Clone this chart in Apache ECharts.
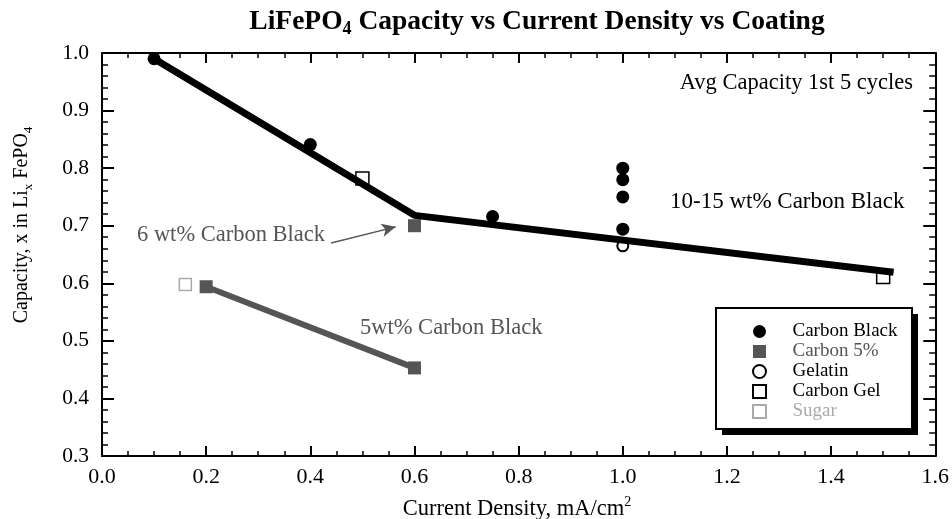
<!DOCTYPE html>
<html>
<head>
<meta charset="utf-8">
<script src="https://cdn.jsdelivr.net/npm/echarts@6/dist/echarts.min.js"></script>
<style>html,body{margin:0;padding:0;background:#fff}#c{width:952px;height:519px}</style>
</head>
<body>
<div id="c"></div>
<script>
// ---- data ----
const carbonBlack = [[0.1, 0.99], [0.4, 0.841], [0.75, 0.716], [1.0, 0.80], [1.0, 0.78], [1.0, 0.75], [1.0, 0.694]];
const carbon5 = [[0.2, 0.594], [0.6, 0.453], [0.6, 0.70]];
const gelatin = [[1.0, 0.665]];
const carbonGel = [[0.5, 0.782], [1.5, 0.611]];
const sugar = [[0.16, 0.598]];
const fitCarbonBlack = [[0.1, 0.99], [0.6, 0.718], [1.52, 0.619]];
const fit5wt = [[0.2, 0.594], [0.6, 0.453]];
const arrowTail = [0.44, 0.67];
const arrowHead = [0.564, 0.698];
const xTicks = {min: 0, max: 1.6, interval: 0.2};
const yTicks = {min: 0.3, max: 1.0, interval: 0.1};
const legendNames = ['Carbon Black', 'Carbon 5%', 'Gelatin', 'Carbon Gel', 'Sugar'];

const SERIF = '"Liberation Serif", "DejaVu Serif", serif';
const GRAY = '#555';
const LIGHT = '#aaa';
const SQUARE = 'path://M0,0H10V10H0Z';

const chart = echarts.init(document.getElementById('c'), null, {renderer: 'canvas'});

function xAxisDef(pos, showLabel) {
  return {
    type: 'value', position: pos, min: xTicks.min, max: xTicks.max, interval: xTicks.interval,
    axisLine: {show: true, onZero: false, lineStyle: {color: '#000', width: 2}},
    axisTick: {show: true, inside: true, length: 10, lineStyle: {color: '#000', width: 2}},
    minorTick: {show: true, splitNumber: 4, length: 5, lineStyle: {color: '#000', width: 1.5}},
    splitLine: {show: false}, minorSplitLine: {show: false},
    axisLabel: {show: showLabel, color: '#000', fontFamily: SERIF, fontSize: 22, margin: 10,
      formatter: v => v.toFixed(1)}
  };
}
function yAxisDef(pos, showLabel) {
  return {
    type: 'value', position: pos, min: yTicks.min, max: yTicks.max, interval: yTicks.interval,
    axisLine: {show: true, onZero: false, lineStyle: {color: '#000', width: 2}},
    axisTick: {show: true, inside: true, length: 12, lineStyle: {color: '#000', width: 2}},
    minorTick: {show: true, splitNumber: 5, length: 6, lineStyle: {color: '#000', width: 1.5}},
    splitLine: {show: false}, minorSplitLine: {show: false},
    axisLabel: {show: showLabel, color: '#000', fontFamily: SERIF, fontSize: 21.5, margin: 13,
      formatter: v => v.toFixed(1)}
  };
}

const option = {
  backgroundColor: '#fff',
  animation: false,
  grid: {left: 102, right: 14, top: 53, bottom: 63, containLabel: false},
  xAxis: [xAxisDef('bottom', true), xAxisDef('top', false)],
  yAxis: [yAxisDef('left', true), yAxisDef('right', false)],
  legend: {
    orient: 'vertical', left: 752, top: 322, z: 20,
    padding: 0,
    itemWidth: 56, itemHeight: 13, itemGap: 1,
    textStyle: {fontFamily: SERIF, fontSize: 19, color: '#000'},
    data: [
      {name: legendNames[0], textStyle: {color: '#000'}},
      {name: legendNames[1], icon: SQUARE, textStyle: {color: GRAY}},
      {name: legendNames[2], textStyle: {color: '#000'}},
      {name: legendNames[3], icon: SQUARE, textStyle: {color: '#000'}},
      {name: legendNames[4], icon: SQUARE, textStyle: {color: LIGHT}}
    ],
    selectedMode: false
  },
  series: [
    {name: legendNames[0], type: 'scatter', data: carbonBlack, symbol: 'circle', symbolSize: 13,
      itemStyle: {color: '#000', opacity: 1}, z: 2},
    {name: legendNames[1], type: 'scatter', data: carbon5, symbol: 'rect', symbolSize: 13,
      itemStyle: {color: GRAY, opacity: 1}, z: 2},
    {name: legendNames[2], type: 'scatter', data: gelatin, symbol: 'circle', symbolSize: 11,
      itemStyle: {color: '#fff', borderColor: '#000', borderWidth: 2, opacity: 1}, z: 2},
    {name: legendNames[3], type: 'scatter', data: carbonGel, symbol: 'rect', symbolSize: 13,
      itemStyle: {color: '#fff', borderColor: '#000', borderWidth: 1.5, opacity: 1}, z: 2},
    {name: legendNames[4], type: 'scatter', data: sugar, symbol: 'rect', symbolSize: 12,
      itemStyle: {color: '#fff', borderColor: LIGHT, borderWidth: 1.5, opacity: 1}, z: 2},
    {name: 'fitCB', type: 'line', data: fitCarbonBlack, symbol: 'none', z: 3,
      lineStyle: {color: '#000', width: 7}},
    {name: 'fit5', type: 'line', data: fit5wt, symbol: 'none', z: 3,
      lineStyle: {color: GRAY, width: 6},
      markLine: {silent: true, symbol: ['none', 'arrow'], symbolSize: [10, 14], label: {show: false},
        lineStyle: {color: GRAY, width: 1.5, type: 'solid'},
        data: [[{coord: arrowTail}, {coord: arrowHead}]]}}
  ],
  graphic: [
    // legend frame with solid drop shadow
    {type: 'rect', z: 10, shape: {x: 722, y: 314, width: 196, height: 121}, style: {fill: '#000'}},
    {type: 'rect', z: 11, shape: {x: 716, y: 308, width: 196, height: 121},
      style: {fill: '#fff', stroke: '#000', lineWidth: 2}},
    {type: 'text', x: 537, y: 22, style: {
      text: '{a|LiFePO}{s|4}{a| Capacity vs Current Density vs Coating}',
      align: 'center', verticalAlign: 'middle',
      rich: {
        a: {fontFamily: SERIF, fontWeight: 'bold', fontSize: 27.5, lineHeight: 32, fill: '#000', verticalAlign: 'middle'},
        s: {fontFamily: SERIF, fontWeight: 'bold', fontSize: 18, lineHeight: 19, fill: '#000', verticalAlign: 'bottom'}
      }}},
    {type: 'text', x: 517, y: 508, style: {
      text: '{a|Current Density, mA/cm}{s|2}',
      align: 'center', verticalAlign: 'middle',
      rich: {
        a: {fontFamily: SERIF, fontSize: 22.5, lineHeight: 26, fill: '#000', verticalAlign: 'bottom'},
        s: {fontFamily: SERIF, fontSize: 14, lineHeight: 14, fill: '#000', verticalAlign: 'top'}
      }}},
    {type: 'text', x: 22, y: 225, rotation: Math.PI / 2, style: {
      text: '{a|Capacity, x in Li}{s|x}{a| FePO}{s|4}',
      align: 'center', verticalAlign: 'middle',
      rich: {
        a: {fontFamily: SERIF, fontSize: 20, lineHeight: 26, fill: '#000', verticalAlign: 'middle'},
        s: {fontFamily: SERIF, fontSize: 13, lineHeight: 14, fill: '#000', verticalAlign: 'bottom'}
      }}},
    {type: 'text', x: 913, y: 83, style: {text: 'Avg Capacity 1st 5 cycles', align: 'right', verticalAlign: 'middle',
      font: '22.5px ' + SERIF, fill: '#000'}},
    {type: 'text', x: 670, y: 202, style: {text: '10-15 wt% Carbon Black', align: 'left', verticalAlign: 'middle',
      font: '23px ' + SERIF, fill: '#000'}},
    {type: 'text', x: 137, y: 235, style: {text: '6 wt% Carbon Black', align: 'left', verticalAlign: 'middle',
      font: '22.5px ' + SERIF, fill: GRAY}},
    {type: 'text', x: 360, y: 328, style: {text: '5wt% Carbon Black', align: 'left', verticalAlign: 'middle',
      font: '22.5px ' + SERIF, fill: GRAY}}
  ]
};
chart.setOption(option);
</script>
</body>
</html>
